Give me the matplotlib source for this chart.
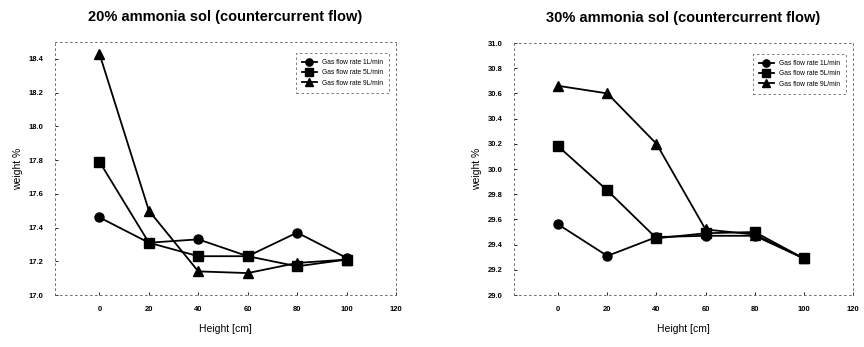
import matplotlib
matplotlib.use("Agg")
import matplotlib.pyplot as plt

heights = [0, 20, 40, 60, 80, 100]
series_labels = ["Gas flow rate 1L/min", "Gas flow rate 5L/min", "Gas flow rate 9L/min"]
markers = ["o", "s", "^"]

left_title = "20% ammonia sol (countercurrent flow)"
left_1L = [17.46, 17.31, 17.33, 17.23, 17.37, 17.22]
left_5L = [17.79, 17.31, 17.23, 17.23, 17.17, 17.21]
left_9L = [18.43, 17.50, 17.14, 17.13, 17.19, 17.21]
left_yticks = [17.0, 17.2, 17.4, 17.6, 17.8, 18.0, 18.2, 18.4]

right_title = "30% ammonia sol (countercurrent flow)"
right_1L = [29.56, 29.31, 29.46, 29.47, 29.47, 29.29]
right_5L = [30.18, 29.83, 29.45, 29.49, 29.50, 29.29]
right_9L = [30.66, 30.60, 30.20, 29.52, 29.48, 29.29]
right_yticks = [29.0, 29.2, 29.4, 29.6, 29.8, 30.0, 30.2, 30.4, 30.6, 30.8, 31.0]

xticks = [0, 20, 40, 60, 80, 100, 120]

plt.rcParams['font.family'] = ['Liberation Sans', 'DejaVu Sans']

fig = plt.figure(figsize=(8.64, 3.47), dpi=100)
W, H = 864, 347
axL = fig.add_axes([55 / W, 1 - 295 / H, (396 - 55) / W, (295 - 42) / H])
axR = fig.add_axes([514 / W, 1 - 295 / H, (853 - 514) / W, (295 - 43) / H])

def draw(ax, title, data, yticks, ylim):
    for vals, lab, m in zip(data, series_labels, markers):
        ax.plot(heights, vals, color="black", lw=1.3, marker=m, markersize=6.5, label=lab)
    ax.set_xlim(-18, 120)
    ax.set_ylim(*ylim)
    ax.set_xticks(xticks)
    ax.set_yticks(yticks)
    ax.set_yticklabels([f"{v:.1f}" for v in yticks])
    ax.tick_params(labelsize=5.5, length=2, width=0.6, direction="in", pad=8)
    for lbl in ax.get_xticklabels() + ax.get_yticklabels():
        lbl.set_fontweight("bold")
    for s in ax.spines.values():
        s.set_linestyle((0, (2, 4)))
        s.set_linewidth(0.6)
        s.set_color("#555555")
    ax.set_title(title, fontsize=10.5, fontweight="bold", pad=15)
    ax.set_xlabel("Height [cm]", fontsize=7.5, labelpad=8)
    ax.set_ylabel("weight %", fontsize=7.5)
    leg = ax.legend(loc="upper right", fontsize=4.8, frameon=True, fancybox=False,
                    borderpad=0.9, handlelength=2.2, bbox_to_anchor=(0.99, 0.97),
                    markerscale=0.8)
    fr = leg.get_frame()
    fr.set_edgecolor("#444444")
    fr.set_linestyle((0, (3, 3)))
    fr.set_linewidth(0.6)

draw(axL, left_title, [left_1L, left_5L, left_9L], left_yticks, (17.0, 18.5))
draw(axR, right_title, [right_1L, right_5L, right_9L], right_yticks, (29.0, 31.0))

fig.savefig("out.png", dpi=100)
